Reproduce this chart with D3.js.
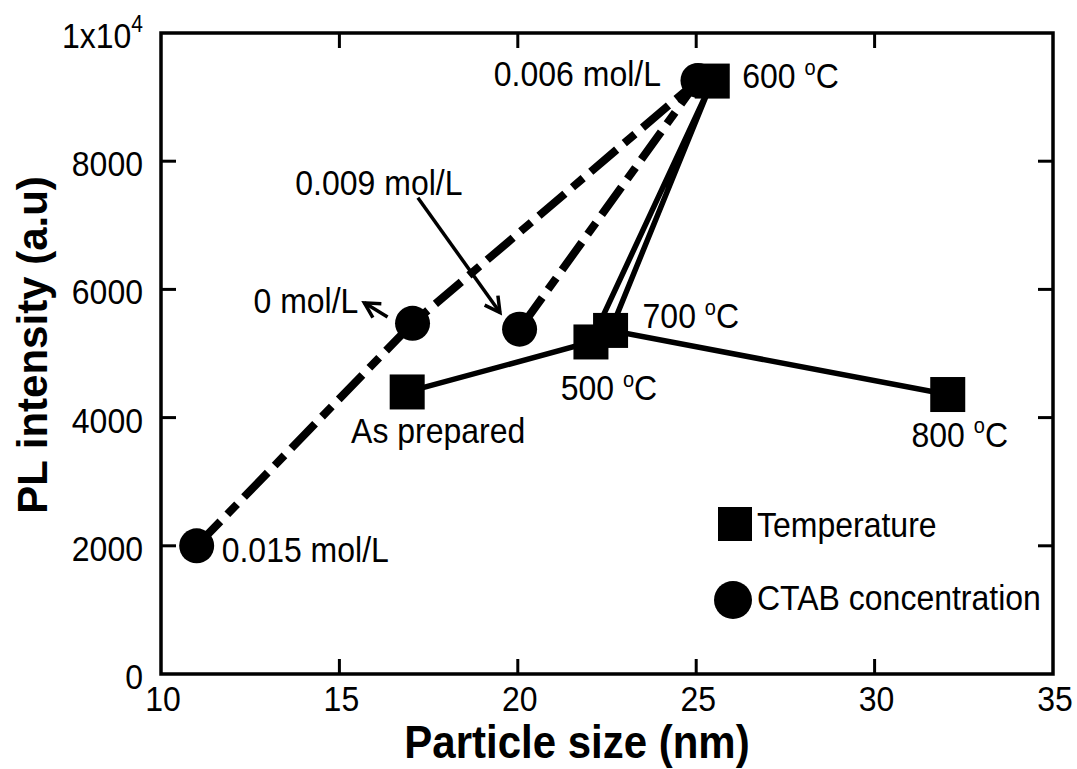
<!DOCTYPE html>
<html>
<head>
<meta charset="utf-8">
<script src="https://cdn.jsdelivr.net/npm/d3@7"></script>
<style>
  html, body { margin: 0; padding: 0; background: #fff; }
  svg { display: block; }
  text { font-family: "Liberation Sans", Arial, Helvetica, sans-serif; fill: #000; }
</style>
</head>
<body>
<svg id="chart" width="1077" height="769"></svg>
<script>
// Temperature series: particle size (nm) vs PL intensity, drawn in processing order
const tempLabels = ["As prepared", "500", "600", "700", "800"];
const tempSize = [16.9, 22.05, 25.45, 22.6, 32.05];
const tempPL = [4400, 5180, 9250, 5360, 4360];

// CTAB concentration series, drawn in the order the dashed line connects them
const ctabLabels = ["0.015 mol/L", "0 mol/L", "0.006 mol/L", "0.009 mol/L"];
const ctabSize = [11.0, 17.05, 25.05, 20.05];
const ctabPL = [2000, 5470, 9260, 5380];

// Axis ticks
const xTicks = [10, 15, 20, 25, 30, 35];
const yTicks = [0, 2000, 4000, 6000, 8000, 10000];

// Annotation arrows (data units): [x0, y0, x1, y1]
const arrowFrom009 = [17.2, 7430, 19.5, 5640];
const arrowFrom0 = [16.35, 5570, 15.7, 5790];

const svg = d3.select("#chart");
const plotL = 161, plotR = 1053, plotT = 33, plotB = 674;
const x = d3.scaleLinear().domain([10, 35]).range([plotL, plotR]);
const y = d3.scaleLinear().domain([0, 10000]).range([plotB, plotT]);

const FS = 32;        // annotation / tick font size
const SY = 1.1;       // vertical stretch of glyphs

// place a text element with its baseline at (px, py)
function label(px, py, anchor, size, weight) {
  return svg.append("text")
    .attr("transform", `translate(${px},${py}) scale(1,${SY})`)
    .attr("text-anchor", anchor || "start")
    .attr("font-size", size || FS)
    .attr("font-weight", weight || "normal");
}
// "NNN ºC" label with raised small o
function degLabel(px, py, anchor, num) {
  const t = label(px, py, anchor);
  t.append("tspan").text(num + " ");
  t.append("tspan").attr("font-size", 20).attr("dy", -12).text("o");
  t.append("tspan").attr("dy", 12).text("C");
  return t;
}

// ---- frame and inward ticks on all four sides ----
const gAx = svg.append("g").attr("stroke", "#000").attr("fill", "none");
gAx.append("rect")
  .attr("x", plotL).attr("y", plotT)
  .attr("width", plotR - plotL).attr("height", plotB - plotT)
  .attr("stroke-width", 3.5);

const tickLen = 15;
xTicks.slice(1, -1).forEach(v => {
  gAx.append("line").attr("x1", x(v)).attr("x2", x(v))
    .attr("y1", plotB).attr("y2", plotB - tickLen).attr("stroke-width", 3);
  gAx.append("line").attr("x1", x(v)).attr("x2", x(v))
    .attr("y1", plotT).attr("y2", plotT + tickLen).attr("stroke-width", 3);
});
yTicks.slice(1, -1).forEach(v => {
  gAx.append("line").attr("x1", plotL).attr("x2", plotL + tickLen)
    .attr("y1", y(v)).attr("y2", y(v)).attr("stroke-width", 3);
  gAx.append("line").attr("x1", plotR).attr("x2", plotR - tickLen)
    .attr("y1", y(v)).attr("y2", y(v)).attr("stroke-width", 3);
});

// tick labels
xTicks.forEach(v => {
  label(x(v) + 2, 711, "middle").text(v);
});
yTicks.forEach(v => {
  const t = label(143, y(v) + 15, "end");
  if (v === 10000) {
    t.append("tspan").text("1x10");
    t.append("tspan").attr("font-size", 21).attr("dy", -15).text("4");
  } else {
    t.text(v);
  }
});

// axis titles
label(577, 758, "middle", 42, "bold").text("Particle size (nm)");
svg.append("text")
  .attr("transform", "translate(47,345) rotate(-90)")
  .attr("text-anchor", "middle")
  .attr("font-size", 42)
  .attr("font-weight", "bold")
  .text("PL intensity (a.u)");

// ---- series lines ----
const ctabPts = ctabSize.map((s, i) => [x(s), y(ctabPL[i])]);
const tempPts = tempSize.map((s, i) => [x(s), y(tempPL[i])]);
const line = d3.line();

svg.append("path")
  .attr("d", line(ctabPts))
  .attr("fill", "none").attr("stroke", "#000")
  .attr("stroke-width", 8)
  .attr("stroke-dasharray", "34,10,14,10")
  .attr("stroke-linejoin", "round");

svg.append("path")
  .attr("d", line(tempPts))
  .attr("fill", "none").attr("stroke", "#000")
  .attr("stroke-width", 5.5)
  .attr("stroke-linejoin", "miter");

// ---- markers ----
svg.append("g").selectAll("circle")
  .data(ctabPts).join("circle")
  .attr("cx", d => d[0]).attr("cy", d => d[1]).attr("r", 17.5)
  .attr("fill", "#000");

const sq = 35;
svg.append("g").selectAll("rect")
  .data(tempPts).join("rect")
  .attr("x", d => d[0] - sq / 2).attr("y", d => d[1] - sq / 2)
  .attr("width", sq).attr("height", sq)
  .attr("fill", "#000");

// ---- point labels ----
const [p015, p0, p006, p009] = ctabPts;
label(p015[0] + 25, p015[1] + 16, "start").text(ctabLabels[0]);
label(p006[0] - 37, p006[1] + 6, "end").text(ctabLabels[2]);

const [pAs, p500, p600, p700, p800] = tempPts;
label(pAs[0] + 31, pAs[1] + 51, "middle").text(tempLabels[0]);
degLabel(p500[0] + 18, p500[1] + 58, "middle", tempLabels[1]);
degLabel(p600[0] + 30, p600[1] + 7, "start", tempLabels[2]);
degLabel(p700[0] + 32, p700[1] - 2, "start", tempLabels[3]);
degLabel(p800[0] + 12, p800[1] + 52, "middle", tempLabels[4]);

// ---- annotation arrows ----
function arrow(a) {
  const x0 = x(a[0]), y0 = y(a[1]), x1 = x(a[2]), y1 = y(a[3]);
  const ang = Math.atan2(y1 - y0, x1 - x0);
  const hl = 17, spread = 0.5;
  const g = svg.append("g").attr("stroke", "#000").attr("fill", "none")
    .attr("stroke-width", 3.5).attr("stroke-linecap", "butt");
  g.append("line").attr("x1", x0).attr("y1", y0).attr("x2", x1).attr("y2", y1);
  g.append("path").attr("stroke-linejoin", "miter")
    .attr("d", `M${x1 - hl * Math.cos(ang - spread)},${y1 - hl * Math.sin(ang - spread)}` +
               `L${x1},${y1}` +
               `L${x1 - hl * Math.cos(ang + spread)},${y1 - hl * Math.sin(ang + spread)}`);
  return [x0, y0, x1, y1];
}
const a009 = arrow(arrowFrom009);
const a0 = arrow(arrowFrom0);
label(a009[0] - 39, a009[1] - 3, "middle").text(ctabLabels[3]);
label(a0[2] - 6, a0[3] + 10, "end").text(ctabLabels[1]);

// ---- legend ----
const lg = svg.append("g");
lg.append("rect").attr("x", 735 - 17).attr("y", 524 - 17)
  .attr("width", 34).attr("height", 34).attr("fill", "#000");
label(757, 537, "start").text("Temperature");
lg.append("circle").attr("cx", 733).attr("cy", 600).attr("r", 19).attr("fill", "#000");
label(757, 610, "start").text("CTAB concentration");
</script>
</body>
</html>
